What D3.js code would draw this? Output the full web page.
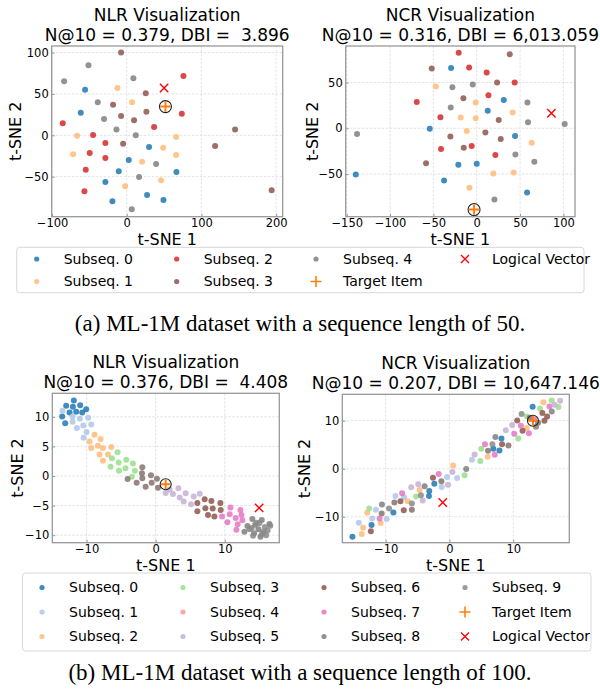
<!DOCTYPE html>
<html>
<head>
<meta charset="utf-8">
<script src="https://cdn.jsdelivr.net/npm/d3@7"></script>
<style>
  body { margin: 0; background: #fff; }
  svg text { font-family: "DejaVu Sans", sans-serif; fill: #000; }
</style>
</head>
<body>
<svg id="fig" width="600" height="690"></svg>
<script>
// ---- data ----
// each point: [t-SNE 1, t-SNE 2, subsequence index]
const nlr50 = [
  [-55.8, 55.2, 0], [-61.6, 27.4, 0], [29.9, -14.1, 0], [2.7, -29.8, 0], [-10.7, -43.5, 0],
  [66.5, -44.4, 0], [-28.6, -56.5, 0], [27.2, -72.2, 0], [-19.2, -79.8, 0], [49.1, -78.2, 0],
  [-12.5, 57.3, 1], [7.1, 39.9, 1], [-66.5, -0.4, 1], [66.1, -2, 1], [48.7, -14.9, 1],
  [-71.9, -23, 1], [66.1, -23.8, 1], [20.5, -31.9, 1], [46, -54.4, 1], [-2.2, -61.7, 1],
  [75.9, 71.8, 2], [73.7, 26.2, 2], [36.6, 10.1, 2], [-85.7, 14.5, 2], [-45.1, 0.4, 2],
  [-28.6, -9.3, 2], [-49.6, -21.4, 2], [-28.6, -27.4, 2], [-54.9, -41.5, 2], [-56.7, -67.7, 2],
  [-7.6, 100, 3], [25.4, 50.8, 3], [-18.3, 37.1, 3], [26.3, 28.6, 3], [-7.6, 23.4, 3],
  [9.8, 18.1, 3], [-4.9, -10.1, 3], [118.3, -12.9, 3], [145, 6.9, 3], [194, -66.5, 3],
  [-51.3, 84.7, 4], [-83.9, 65.3, 4], [8.9, 69, 4], [-38.8, 39.9, 4], [-30.4, 19.8, 4],
  [-13.8, 6.9, 4], [12.1, 0, 4], [39.3, -34.7, 4], [16.5, -50.4, 4], [6.7, -89.5, 4]
];
const nlr50Target = [51.8, 34.7];
const nlr50Logical = [50, 57.3];

const ncr50 = [
  [-29.6, 65.7, 0], [31.2, 31, 0], [12.7, 19, 0], [-54.2, -0.4, 0], [44.2, -8.4, 0],
  [-21.2, -39.8, 0], [0, -38.7, 0], [-37.7, -56.9, 0], [-139.6, -50.4, 0], [58.1, -70.1, 0],
  [-47.3, 45.6, 1], [-1.2, 28.1, 1], [-18.5, 11.7, 1], [-1.2, 10.9, 1], [41.5, 17.2, 1],
  [-11.5, -2.9, 1], [63.5, -15.7, 1], [19.2, -49.3, 1], [42.7, -48.2, 1], [-8.5, -65, 1],
  [-20.8, 82.5, 2], [-8.8, 66.4, 2], [11.5, 60.9, 2], [43.8, 50, 2], [-69.2, 28.8, 2],
  [13.5, 36.1, 2], [-41.9, 12, 2], [-41.2, -22.6, 2], [-5.8, -19.3, 2], [21.5, -29.2, 2],
  [-51.9, 65.3, 3], [38.1, 80.7, 3], [23.5, 50, 3], [-15.4, 32.8, 3], [25.4, 9.1, 3],
  [-30.4, -9.1, 3], [10, -4.7, 3], [27.7, -11.7, 3], [-15, -21.2, 3], [-58.5, -38.3, 3],
  [-28.1, 44.9, 4], [-4.6, 47.8, 4], [-30, 22.6, 4], [58.5, 28.1, 4], [59.2, 6.6, 4],
  [101.5, 4.7, 4], [-138.1, -6.2, 4], [44.6, -28.5, 4], [66.5, -36.5, 4], [20.4, -77.7, 4]
];
const ncr50Target = [-3.1, -88.7];
const ncr50Logical = [86.2, 16.4];

const nlr100 = [
  [-11.84, 12.75, 0], [-12.95, 11.85, 0], [-11.98, 11.69, 0], [-10.92, 11.97, 0], [-10.05, 11.29, 0],
  [-12.46, 10.73, 0], [-11.5, 10.84, 0], [-10.63, 10.73, 0], [-13.53, 10.06, 0], [-13.09, 8.93, 0],
  [-13.48, 11.04, 1], [-12.03, 10.03, 1], [-12.03, 9.18, 1], [-10.97, 9.69, 1], [-9.76, 9.86, 1],
  [-9.32, 8.68, 1], [-11.4, 8.11, 1], [-10.48, 8.51, 1], [-10.0, 7.44, 1], [-10.43, 6.48, 1],
  [-8.84, 6.97, 2], [-9.57, 5.84, 2], [-9.32, 4.72, 2], [-7.97, 6.24, 2], [-8.36, 5.11, 2],
  [-7.63, 4.72, 2], [-6.43, 4.89, 2], [-8.12, 3.65, 2], [-6.91, 3.65, 2], [-7.63, 2.58, 2],
  [-5.51, 3.99, 3], [-6.33, 2.98, 3], [-5.36, 2.3, 3], [-4.25, 2.75, 3], [-3.29, 2.13, 3],
  [-6.52, 1.57, 3], [-5.31, 0.9, 3], [-4.35, 1.29, 3], [-3.0, 0.9, 3], [-3.43, -0.11, 3],
  [-1.93, 1.46, 4], [-1.98, 0.45, 4], [-1.93, -0.39, 4], [-4.06, -0.51, 4], [-2.75, -1.13, 4],
  [-1.45, -1.8, 4], [-0.68, 0.11, 4], [0.19, -0.45, 4], [0.34, -1.97, 4], [-0.58, -1.13, 4],
  [1.45, -2.87, 5], [2.51, -3.03, 5], [3.29, -2.08, 5], [3.48, -3.65, 5], [4.35, -2.92, 5],
  [4.06, -4.33, 5], [5.12, -4.78, 5], [5.51, -3.48, 5], [6.38, -2.98, 5], [2.03, -2.3, 5],
  [7.1, -3.93, 6], [8.07, -4.21, 6], [9.37, -4.55, 6], [6.04, -4.55, 6], [6.04, -5.96, 6],
  [7.2, -5.45, 6], [8.26, -5.51, 6], [9.42, -5.73, 6], [7.58, -6.57, 6], [8.5, -6.85, 6],
  [10.82, -5.34, 7], [12.27, -5.73, 7], [12.42, -6.57, 7], [10.72, -6.46, 7], [11.59, -7.08, 7],
  [12.56, -7.47, 7], [9.61, -6.85, 7], [10.39, -7.81, 7], [11.88, -8.15, 7], [11.69, -9.1, 7],
  [14.0, -7.27, 8], [15.36, -7.44, 8], [16.47, -8.11, 8], [13.29, -8.45, 8], [14.4, -8.23, 8],
  [14.88, -9.01, 8], [15.6, -9.46, 8], [12.85, -9.41, 8], [14.25, -9.69, 8], [15.17, -10.25, 8],
  [15.99, -10.03, 9], [14.6, -7.9, 9], [15.8, -8.6, 9], [13.6, -9.0, 9], [16.2, -9.2, 9],
  [14.1, -10.1, 9], [15.0, -8.0, 9], [16.6, -8.4, 9], [13.9, -8.8, 9], [15.4, -9.8, 9]
];
const nlr100Target = [1.45, -1.4];
const nlr100Logical = [14.98, -5.39];

const ncr100 = [
  [13.05, 12.9, 0], [8.16, 6.28, 0], [6.89, 4.14, 0], [7.84, 3.79, 0], [-2.37, -3.1, 0],
  [-3.16, -4.62, 0], [-3.21, -5.66, 0], [-8.79, -9.1, 0], [-12.21, -11.72, 0], [-15.21, -14.14, 0],
  [3.53, 1.86, 1], [-0.37, -1.72, 1], [1.21, -1.93, 1], [-1.21, -3.79, 1], [-8.47, -5.66, 1],
  [-7.1, -5.93, 1], [-11.53, -8.55, 1], [-12.11, -10.34, 1], [-9.84, -10.48, 1], [-14.21, -11.24, 1],
  [14.74, 13.86, 2], [12.11, 8.48, 2], [6.0, 2.48, 2], [0.58, 0.69, 2], [-4.68, -4.41, 2],
  [-6.53, -6.76, 2], [-12.89, -9.17, 2], [-10.79, -11.31, 2], [-13.53, -12.28, 2], [-13.74, -13.59, 2],
  [16.05, 14.2, 3], [14.21, 12.55, 3], [17.11, 12.83, 3], [12.16, 10.9, 3], [10.79, 6.28, 3],
  [5.0, 4.14, 3], [4.84, 1.59, 3], [2.37, -1.38, 3], [-5.21, -5.79, 3], [-12.58, -8.28, 3],
  [6.05, 3.72, 4], [-1.26, -2.62, 4], [-8.63, -7.03, 4], [-5.89, -8.55, 4], [-10.63, -9.31, 4],
  [13.9, 9.6, 4], [12.6, 10.6, 4], [9.26, 4.83, 4],
  [17.37, 14.14, 5], [8.84, 8.0, 5], [9.84, 9.1, 5], [3.95, 2.97, 5], [0.47, -0.69, 5],
  [-0.21, -3.31, 5], [-4.89, -3.24, 5], [-6.0, -3.86, 5], [-4.21, -6.62, 5], [16.5, 13.3, 5],
  [14.58, 11.59, 6], [15.32, 10.9, 6], [10.63, 10.07, 6], [14.89, 10.0, 6], [11.47, 7.93, 6],
  [8.26, 5.1, 6], [-2.58, -1.86, 6], [-7.68, -6.76, 6], [-7.16, -8.62, 6], [-12.32, -13.0, 6],
  [15.68, 12.97, 7], [11.21, 8.97, 7], [10.16, 7.31, 7], [12.47, 7.38, 7], [5.58, 5.1, 7],
  [7.1, 2.9, 7], [-1.68, -1.1, 7], [-7.42, -5.1, 7], [-10.95, -10.34, 7], [13.3, 10.3, 7],
  [16.05, 11.93, 8], [13.58, 8.76, 8], [7.21, 6.62, 8], [2.63, -0.07, 8], [-3.89, -3.66, 8],
  [-10.58, -7.45, 8],
  [11.32, 11.38, 9], [6.74, 5.1, 9], [-4.47, -5.52, 9], [-5.89, -7.24, 9], [-9.47, -8.28, 9]
];
const ncr100Target = [13.1, 10.0];
const ncr100Logical = [-1.05, -7.03];

const titlesTop = ['NLR Visualization', 'NCR Visualization'];
const metricsTop = ['N@10 = 0.379, DBI =  3.896', 'N@10 = 0.316, DBI = 6,013.059'];
const metricsBottom = ['N@10 = 0.376, DBI =  4.408', 'N@10 = 0.207, DBI = 10,647.146'];

const ticksNlr50X = [-100, 0, 100, 200];
const ticksNlr50Y = [-50, 0, 50, 100];
const ticksNcr50X = [-150, -100, -50, 0, 50, 100];
const ticksNcr50Y = [-50, 0, 50];
const ticksNlr100X = [-10, 0, 10];
const ticksNlr100Y = [-10, -5, 0, 5, 10];
const ticksNcr100X = [-10, 0, 10];
const ticksNcr100Y = [-10, 0, 10];

const labels50 = ['Subseq. 0', 'Subseq. 1', 'Subseq. 2', 'Subseq. 3', 'Subseq. 4'];
const labels100 = ['Subseq. 0', 'Subseq. 1', 'Subseq. 2', 'Subseq. 3', 'Subseq. 4',
  'Subseq. 5', 'Subseq. 6', 'Subseq. 7', 'Subseq. 8', 'Subseq. 9'];
const colors50 = ['#1f77b4', '#ffbb78', '#d62728', '#8c564b', '#7f7f7f'];
const colors100 = ['#1f77b4', '#aec7e8', '#ffbb78', '#98df8a', '#ff9896',
  '#c5b0d5', '#8c564b', '#e377c2', '#7f7f7f', '#8a8a8a'];
// in the plots subseq. 4 of the 100-length run shows as a grey-brown
const pointColors100 = colors100.map((c, i) => i === 4 ? '#86726e' : c);

const captions = ['(a) ML-1M dataset with a sequence length of 50.',
  '(b) ML-1M dataset with a sequence length of 100.'];

// ---- drawing ----
const svg = d3.select('#fig');
const ORANGE = '#ff7f0e', RED = '#ff0000';

const panels = [
  { pts: nlr50, target: nlr50Target, logical: nlr50Logical, colors: colors50,
    t1: titlesTop[0], t2: metricsTop[0], box: [51.7, 46, 282.7, 216.7],
    xd: [-100.5, 208.8], yd: [-98.4, 108], xt: ticksNlr50X, yt: ticksNlr50Y, ylx: 15.5, tr: 6 },
  { pts: ncr50, target: ncr50Target, logical: ncr50Logical, colors: colors50,
    t1: titlesTop[1], t2: metricsTop[1], box: [345.7, 46, 575, 216.7],
    xd: [-151.2, 113.4], yd: [-96.5, 89.8], xt: ticksNcr50X, yt: ticksNcr50Y, ylx: 312.5, tr: 6 },
  { pts: nlr100, target: nlr100Target, logical: nlr100Logical, colors: pointColors100,
    t1: titlesTop[0], t2: metricsBottom[0], box: [52.3, 393.3, 279.3, 542.7],
    xd: [-14.96, 17.9], yd: [-11.27, 13.97], xt: ticksNlr100X, yt: ticksNlr100Y, ylx: 17.5, tr: 5.5 },
  { pts: ncr100, target: ncr100Target, logical: ncr100Logical, colors: pointColors100,
    t1: titlesTop[1], t2: metricsBottom[1], box: [342.3, 394.3, 569.3, 542.7],
    xd: [-16.8, 18.8], yd: [-15.4, 15.5], xt: ticksNcr100X, yt: ticksNcr100Y, ylx: 304.5, tr: 5.5 }
];

function crossPath(cx, cy, s) {
  return `M${cx - s},${cy - s}L${cx + s},${cy + s}M${cx - s},${cy + s}L${cx + s},${cy - s}`;
}
function plusPath(cx, cy, s) {
  return `M${cx - s},${cy}L${cx + s},${cy}M${cx},${cy - s}L${cx},${cy + s}`;
}

panels.forEach(function (p) {
  const [x0, y0, x1, y1] = p.box;
  const x = d3.scaleLinear().domain(p.xd).range([x0, x1]);
  const y = d3.scaleLinear().domain(p.yd).range([y1, y0]);
  const g = svg.append('g');

  // grid
  g.selectAll('line.gx').data(p.xt).enter().append('line')
    .attr('x1', d => x(d)).attr('x2', d => x(d)).attr('y1', y0).attr('y2', y1)
    .attr('stroke', '#dcdcdc').attr('stroke-width', 0.8).attr('stroke-dasharray', '2.5,1.5');
  g.selectAll('line.gy').data(p.yt).enter().append('line')
    .attr('y1', d => y(d)).attr('y2', d => y(d)).attr('x1', x0).attr('x2', x1)
    .attr('stroke', '#dcdcdc').attr('stroke-width', 0.8).attr('stroke-dasharray', '2.5,1.5');

  // axes (ticks point inward)
  const ax = g.append('g').attr('transform', `translate(0,${y1})`)
    .call(d3.axisBottom(x).tickValues(p.xt).tickSizeInner(-3).tickSizeOuter(0).tickPadding(2));
  const ay = g.append('g').attr('transform', `translate(${x0},0)`)
    .call(d3.axisLeft(y).tickValues(p.yt).tickSizeInner(-3).tickSizeOuter(0).tickPadding(3));
  [ax, ay].forEach(a => {
    a.select('.domain').remove();
    a.selectAll('line').attr('stroke', '#999');
    a.selectAll('text').attr('font-size', 11.5).attr('font-family', 'DejaVu Sans');
  });

  // points
  g.selectAll('circle.pt').data(p.pts).enter().append('circle')
    .attr('cx', d => x(d[0])).attr('cy', d => y(d[1])).attr('r', 3)
    .attr('fill', d => p.colors[d[2]]).attr('fill-opacity', 0.85);

  // target item
  const tx = x(p.target[0]), ty = y(p.target[1]);
  g.append('circle').attr('cx', tx).attr('cy', ty).attr('r', p.tr)
    .attr('fill', 'none').attr('stroke', '#222').attr('stroke-width', 1.1);
  g.append('path').attr('d', plusPath(tx, ty, p.tr - 0.8))
    .attr('stroke', ORANGE).attr('stroke-width', 2);

  // logical vector
  g.append('path').attr('d', crossPath(x(p.logical[0]), y(p.logical[1]), 4.2))
    .attr('stroke', RED).attr('stroke-width', 1.4);

  // frame
  g.append('rect').attr('x', x0).attr('y', y0).attr('width', x1 - x0).attr('height', y1 - y0)
    .attr('fill', 'none').attr('stroke', '#999').attr('stroke-width', 1.3);

  // titles and labels
  const cx = (x0 + x1) / 2;
  g.append('text').attr('x', cx).attr('y', y0 - 25).attr('text-anchor', 'middle')
    .attr('font-size', 17).text(p.t1);
  g.append('text').attr('x', cx).attr('y', y0 - 5).attr('text-anchor', 'middle')
    .attr('font-size', 17).style('white-space', 'pre').text(p.t2);
  g.append('text').attr('x', cx).attr('y', y1 + 28).attr('text-anchor', 'middle')
    .attr('font-size', 16).text('t-SNE 1');
  g.append('text').attr('transform', `translate(${p.ylx},${(y0 + y1) / 2}) rotate(-90)`)
    .attr('text-anchor', 'middle').attr('dy', '0.35em').attr('font-size', 16).text('t-SNE 2');
});

// ---- legends ----
function legend(items, box, colX, rowY) {
  const g = svg.append('g');
  g.append('rect').attr('x', box[0]).attr('y', box[1])
    .attr('width', box[2] - box[0]).attr('height', box[3] - box[1])
    .attr('rx', 3).attr('fill', '#fff').attr('stroke', '#d8d8d8').attr('stroke-width', 1);
  const nRows = rowY.length;
  items.forEach(function (it, i) {
    const mx = colX[Math.floor(i / nRows)], my = rowY[i % nRows];
    if (it.kind === 'dot') {
      g.append('circle').attr('cx', mx).attr('cy', my).attr('r', 2.6)
        .attr('fill', it.color).attr('fill-opacity', 0.85);
    } else if (it.kind === 'plus') {
      g.append('path').attr('d', plusPath(mx, my, 5.5)).attr('stroke', ORANGE).attr('stroke-width', 1.6);
    } else {
      g.append('path').attr('d', crossPath(mx, my, 4)).attr('stroke', RED).attr('stroke-width', 1.4);
    }
    g.append('text').attr('x', mx + 27).attr('y', my).attr('dy', '0.35em')
      .attr('font-size', 14).text(it.label);
  });
}

function legendItems(labels, colors) {
  return labels.map((l, i) => ({ kind: 'dot', label: l, color: colors[i] }));
}

legend(legendItems(labels50, colors50).concat([
  { kind: 'plus', label: 'Target Item' }, { kind: 'cross', label: 'Logical Vector' }]),
  [16.7, 247.3, 584, 292.7], [36.7, 176.7, 316, 465], [259, 281.5]);

legend(legendItems(labels100, colors100).concat([
  { kind: 'plus', label: 'Target Item' }, { kind: 'cross', label: 'Logical Vector' }]),
  [22.5, 573, 591, 651], [42, 183, 324, 465], [587.5, 612, 636.5]);

// ---- captions ----
svg.selectAll('text.cap').data(captions).enter().append('text')
  .attr('x', 300).attr('y', (d, i) => i === 0 ? 331 : 680)
  .attr('text-anchor', 'middle')
  .style('font-family', '"Liberation Serif", "Times New Roman", serif')
  .attr('font-size', 23).text(d => d);
</script>
</body>
</html>
